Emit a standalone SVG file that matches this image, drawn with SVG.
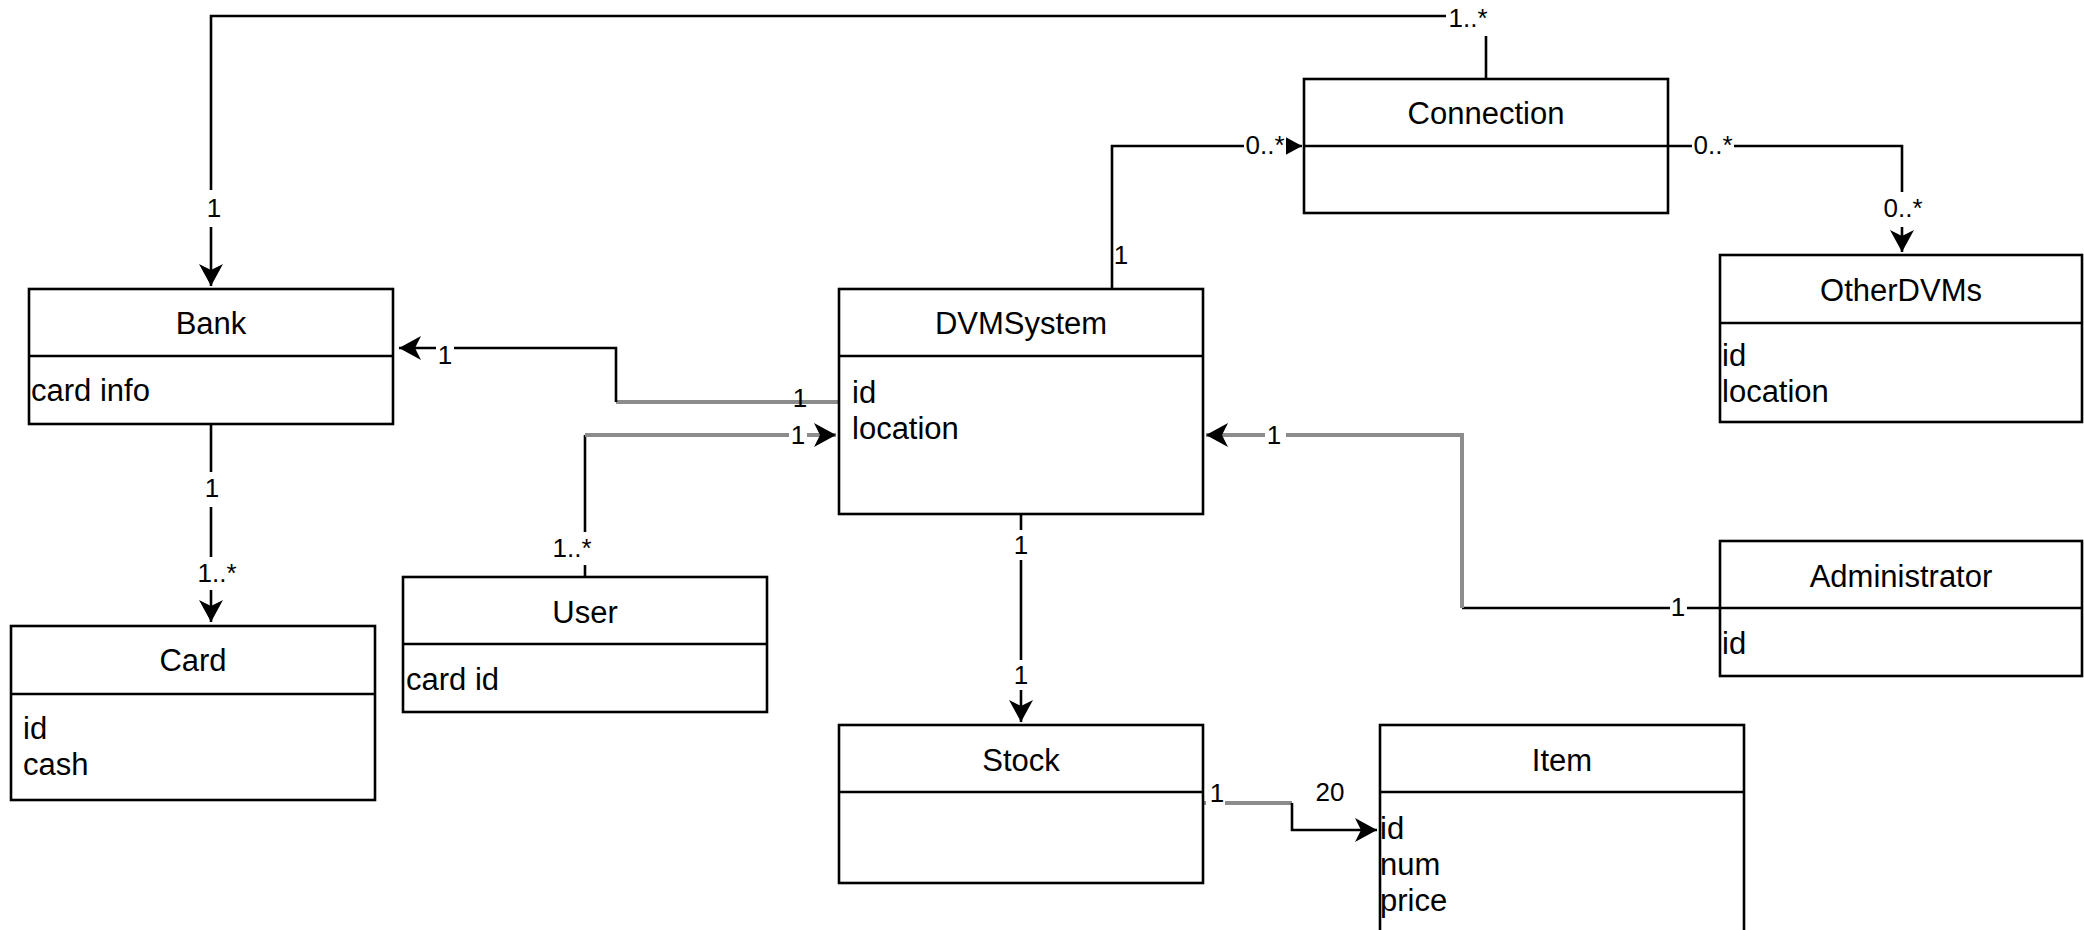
<svg xmlns="http://www.w3.org/2000/svg" width="2084" height="930" viewBox="0 0 2084 930">
<style>
.box{fill:#fff;stroke:#000;stroke-width:2.6}
.div{stroke:#000;stroke-width:2.6}
.t{font-family:"Liberation Sans",Arial,Helvetica,sans-serif;font-size:31px;fill:#000}
.c{text-anchor:middle}
.lbl{font-family:"Liberation Sans",Arial,Helvetica,sans-serif;font-size:26px;fill:#000;text-anchor:middle}
.ln{fill:none;stroke:#000;stroke-width:2.6}
.gr{fill:none;stroke:#8c8c8c;stroke-width:4}
.bg{fill:#fff}
</style>
<defs>
<marker id="arr" viewBox="0 0 22 24" refX="22" refY="12" markerWidth="22" markerHeight="24" markerUnits="userSpaceOnUse" orient="auto">
<path d="M0,0 L22,12 L0,24 L6,12 Z" fill="#000"/>
</marker>
</defs>
<rect width="2084" height="930" fill="#fff"/>

<g id="connectors">
<path class="ln" d="M1486,79 V16 H211 V286" marker-end="url(#arr)"/>
<path class="ln" d="M211,424 V622" marker-end="url(#arr)"/>
<path class="ln" d="M1112,289 V146 H1302" marker-end="url(#arr)"/>
<path class="ln" d="M1668,146 H1902 V252" marker-end="url(#arr)"/>
<path class="gr" d="M839,402 H616"/>
<path class="ln" d="M616,402 V348 H399" marker-end="url(#arr)"/>
<path class="ln" d="M585,577 V435"/>
<path class="gr" d="M585,435 H836" marker-end="url(#arr)"/>
<path class="ln" d="M1720,608 H1462"/>
<path class="gr" d="M1462,608 V435 H1206" marker-end="url(#arr)"/>
<path class="ln" d="M1021,514 V722" marker-end="url(#arr)"/>
<path class="gr" d="M1203,803 H1292"/>
<path class="ln" d="M1292,803 V830 H1377" marker-end="url(#arr)"/>

<rect class="bg" x="1446" y="3" width="44" height="33"/>
<text class="lbl" x="1468" y="27">1..*</text>
<rect class="bg" x="205" y="190" width="17" height="37"/>
<text class="lbl" x="214" y="217">1</text>
<rect class="bg" x="1244" y="132" width="42" height="28"/>
<text class="lbl" x="1265" y="154">0..*</text>
<text class="lbl" x="1121" y="264">1</text>
<rect class="bg" x="1692" y="132" width="42" height="28"/>
<text class="lbl" x="1713" y="154">0..*</text>
<rect class="bg" x="1882" y="192" width="42" height="35"/>
<text class="lbl" x="1903" y="217">0..*</text>
<rect class="bg" x="436" y="338" width="18" height="30"/>
<text class="lbl" x="445" y="364">1</text>
<text class="lbl" x="800" y="407">1</text>
<rect class="bg" x="789" y="420" width="18" height="28"/>
<text class="lbl" x="798" y="444">1</text>
<rect class="bg" x="1265" y="420" width="21" height="28"/>
<text class="lbl" x="1274" y="444">1</text>
<rect class="bg" x="1670" y="592" width="17" height="28"/>
<text class="lbl" x="1678" y="616">1</text>
<rect class="bg" x="1013" y="530" width="17" height="30"/>
<text class="lbl" x="1021" y="554">1</text>
<rect class="bg" x="1013" y="660" width="17" height="30"/>
<text class="lbl" x="1021" y="684">1</text>
<rect class="bg" x="203" y="472" width="18" height="35"/>
<text class="lbl" x="212" y="497">1</text>
<rect class="bg" x="197" y="557" width="40" height="33"/>
<text class="lbl" x="217" y="582">1..*</text>
<rect class="bg" x="552" y="532" width="40" height="33"/>
<text class="lbl" x="572" y="557">1..*</text>
<rect class="bg" x="1206" y="782" width="19" height="26"/>
<text class="lbl" x="1217" y="802">1</text>
<text class="lbl" x="1330" y="801">20</text>
</g>

<g id="bank">
<rect class="box" x="29" y="289" width="364" height="135"/>
<line class="div" x1="29" y1="356" x2="393" y2="356"/>
<text class="t c" x="211" y="334">Bank</text>
<text class="t" x="31" y="401">card info</text>
</g>

<g id="card">
<rect class="box" x="11" y="626" width="364" height="174"/>
<line class="div" x1="11" y1="694" x2="375" y2="694"/>
<text class="t c" x="193" y="671">Card</text>
<text class="t" x="23" y="739">id</text>
<text class="t" x="23" y="775">cash</text>
</g>

<g id="user">
<rect class="box" x="403" y="577" width="364" height="135"/>
<line class="div" x1="403" y1="644" x2="767" y2="644"/>
<text class="t c" x="585" y="623">User</text>
<text class="t" x="406" y="690">card id</text>
</g>

<g id="dvmsystem">
<rect class="box" x="839" y="289" width="364" height="225"/>
<line class="div" x1="839" y1="356" x2="1203" y2="356"/>
<text class="t c" x="1021" y="334">DVMSystem</text>
<text class="t" x="852" y="403">id</text>
<text class="t" x="852" y="439">location</text>
</g>

<g id="stock">
<rect class="box" x="839" y="725" width="364" height="158"/>
<line class="div" x1="839" y1="792" x2="1203" y2="792"/>
<text class="t c" x="1021" y="771">Stock</text>
</g>

<g id="item">
<rect class="box" x="1380" y="725" width="364" height="240"/>
<line class="div" x1="1380" y1="792" x2="1744" y2="792"/>
<text class="t c" x="1562" y="771">Item</text>
<text class="t" x="1380" y="839">id</text>
<text class="t" x="1380" y="875">num</text>
<text class="t" x="1380" y="911">price</text>
</g>

<g id="connection">
<rect class="box" x="1304" y="79" width="364" height="134"/>
<line class="div" x1="1304" y1="146" x2="1668" y2="146"/>
<text class="t c" x="1486" y="124">Connection</text>
</g>

<g id="otherdvms">
<rect class="box" x="1720" y="255" width="362" height="167"/>
<line class="div" x1="1720" y1="323" x2="2082" y2="323"/>
<text class="t c" x="1901" y="301">OtherDVMs</text>
<text class="t" x="1722" y="366">id</text>
<text class="t" x="1722" y="402">location</text>
</g>

<g id="administrator">
<rect class="box" x="1720" y="541" width="362" height="135"/>
<line class="div" x1="1720" y1="608" x2="2082" y2="608"/>
<text class="t c" x="1901" y="587">Administrator</text>
<text class="t" x="1722" y="654">id</text>
</g>
</svg>
